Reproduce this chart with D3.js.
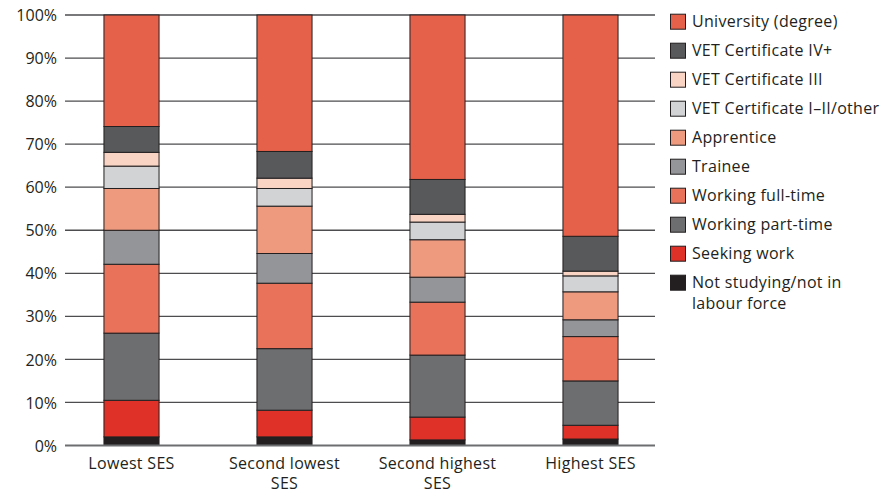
<!DOCTYPE html>
<html><head><meta charset="utf-8">
<script src="https://cdn.jsdelivr.net/npm/d3@7/dist/d3.min.js"></script>
<style>
body{margin:0;background:#fff;}
text{font-family:"Open Sans","Noto Sans",sans-serif;fill:#231f20;}
</style></head>
<body><svg id="c" width="887" height="495"></svg>
<script>
const categories = [["Lowest SES"], ["Second lowest","SES"], ["Second highest","SES"], ["Highest SES"]];
const seriesNames = ["Not studying/not in labour force","Seeking work","Working part-time","Working full-time","Trainee","Apprentice","VET Certificate I–II/other","VET Certificate III","VET Certificate IV+","University (degree)"];
const seriesColors = ["#231f20","#df3127","#6d6e70","#e8735a","#939598","#ee9a7e","#d1d3d4","#f9d3c3","#58595b","#e5614a"];
const notStudying   = [2.0, 2.0, 1.3, 1.5];
const seekingWork   = [8.5, 6.2, 5.3, 3.2];
const partTime      = [15.6, 14.3, 14.4, 10.3];
const fullTime      = [16.0, 15.2, 12.3, 10.3];
const trainee       = [7.9, 6.9, 5.8, 3.9];
const apprentice    = [9.7, 11.0, 8.7, 6.5];
const vetI_II       = [5.2, 4.1, 4.1, 3.7];
const vetIII        = [3.2, 2.4, 1.8, 1.1];
const vetIV         = [6.0, 6.2, 8.1, 8.1];
const university    = [25.9, 31.7, 38.2, 51.4];
const yTicks = [0,10,20,30,40,50,60,70,80,90,100];
const legendLines = [["University (degree)"],["VET Certificate IV+"],["VET Certificate III"],["VET Certificate I–II/other"],["Apprentice"],["Trainee"],["Working full-time"],["Working part-time"],["Seeking work"],["Not studying/not in","labour force"]];

const seriesValues = [notStudying, seekingWork, partTime, fullTime, trainee, apprentice, vetI_II, vetIII, vetIV, university];
const table = categories.map((c,i)=>{
  const o = {cat: c.join(" ")};
  seriesNames.forEach((s,j)=>o[s]=seriesValues[j][i]);
  return o;
});
const stack = d3.stack().keys(seriesNames)(table);

const svg = d3.select("#c");
const x = d3.scaleBand().domain(table.map(d=>d.cat)).range([55,667]).paddingInner(0.64).paddingOuter(0.32);
const y = d3.scaleLinear().domain([0,100]).range([445.5,15]);

// gridlines
svg.append("g").selectAll("line").data(yTicks.filter(t=>t>0)).join("line")
  .attr("x1",65).attr("x2",655).attr("y1",d=>y(d)).attr("y2",d=>y(d))
  .attr("stroke","#4d4d4f").attr("stroke-width",1.3);
// y labels
const yAxis = d3.axisLeft(y).tickValues(yTicks).tickFormat(d=>d+"%").tickSize(0).tickPadding(0);
const ya = svg.append("g").attr("transform","translate(57,0)").call(yAxis);
ya.select(".domain").remove();
ya.selectAll("text").attr("font-size",16).attr("fill","#231f20").attr("dy","0.35em")
  .style("font-family",'"Open Sans","Noto Sans",sans-serif');

// bars
svg.append("g").selectAll("g").data(stack).join("g")
  .attr("fill",(d,i)=>seriesColors[i])
  .selectAll("rect").data(d=>d).join("rect")
  .attr("x",d=>x(d.data.cat)).attr("width",x.bandwidth())
  .attr("y",d=>y(d[1])).attr("height",d=>y(d[0])-y(d[1]))
  .attr("stroke","#231f20").attr("stroke-width",1);

// baseline
svg.append("line").attr("x1",65).attr("x2",655).attr("y1",y(0)).attr("y2",y(0))
  .attr("stroke","#6d6e70").attr("stroke-width",2);

// x labels
const xl = svg.append("g").selectAll("text").data(categories).join("text")
  .attr("x",(d,i)=>x(table[i].cat)+x.bandwidth()/2).attr("y",469)
  .attr("text-anchor","middle").attr("font-size",16).attr("letter-spacing",0.3);
xl.selectAll("tspan").data(d=>d).join("tspan")
  .attr("x",function(){return this.parentNode.getAttribute("x");})
  .attr("dy",(d,i)=>i===0?0:20).text(d=>d);

// legend
const lg = svg.append("g").selectAll("g").data(legendLines).join("g")
  .attr("transform",(d,i)=>`translate(670,${21.7+i*29})`);
lg.append("rect").attr("x",0.5).attr("y",-7.5).attr("width",15).attr("height",15)
  .attr("fill",(d,i)=>seriesColors[seriesColors.length-1-i]).attr("stroke","#231f20").attr("stroke-width",1);
const lt = lg.append("text").attr("x",22).attr("y",0).attr("font-size",16).attr("letter-spacing",0.3);
lt.selectAll("tspan").data(d=>d).join("tspan").attr("x",22).attr("dy",(d,i)=>i===0?"0.35em":"1.3em").text(d=>d);
</script></body></html>
